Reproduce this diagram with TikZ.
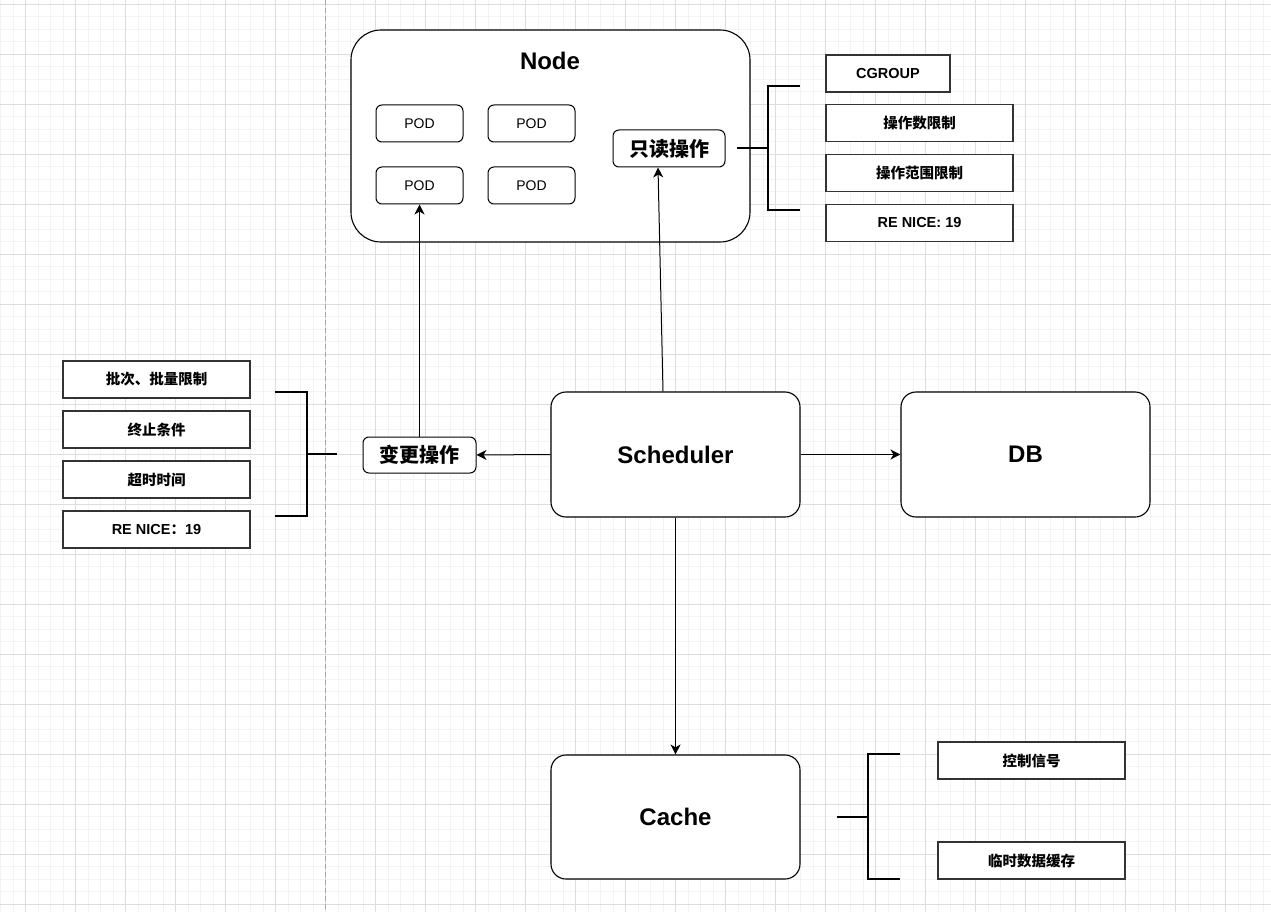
\documentclass[tikz,border=0pt]{standalone}
\usepackage{fontspec}
\setmainfont{Liberation Sans}
\newfontfamily\cjk{Noto Sans CJK SC}
\usetikzlibrary{arrows.meta}
\definecolor{gridminor}{HTML}{F3F3F3}
\definecolor{gridmajor}{HTML}{DDDDDD}
\definecolor{attrline}{HTML}{333333}
\begin{document}
\begin{tikzpicture}[x=1pt,y=-1pt,
  minorgrid/.style={draw=gridminor,line width=0.8pt},
  majorgrid/.style={draw=gridmajor,line width=0.9pt},
  bigbox/.style={draw=black,line width=1.1pt,fill=white,rounded corners=15pt,minimum width=249pt,minimum height=125pt,inner sep=0pt,font=\fontsize{24}{26}\selectfont\bfseries},
  podbox/.style={draw=black,line width=1pt,fill=white,rounded corners=6pt,minimum width=87pt,minimum height=37pt,inner sep=0pt,font=\fontsize{14}{16}\selectfont},
  opbox/.style={draw=black,line width=1pt,fill=white,rounded corners=6pt,minimum height=37pt,inner sep=0pt,font=\cjk\fontsize{20}{22}\selectfont\bfseries},
  attr/.style={draw=attrline,line width=1.1pt,fill=white,minimum width=187pt,minimum height=37pt,inner sep=0pt,font=\fontsize{14.5}{16}\selectfont\bfseries},
  attrcjk/.style={attr,font=\cjk\fontsize{14.5}{16}\selectfont\bfseries},
  bracket/.style={draw=black,line width=2.6pt},
  arr/.style={draw=black,line width=1pt,-{Stealth[length=10pt,width=10pt,inset=3pt]}}
]
\useasboundingbox (0,0) rectangle (1271,912);
\fill[white] (0,0) rectangle (1271,912);
% background grid
\foreach \i in {0,...,102} \draw[minorgrid] (0.5+\i*12.5,0) -- (0.5+\i*12.5,912);
\foreach \j in {-1,...,73} \draw[minorgrid] (0,4.3+\j*12.5) -- (1271,4.3+\j*12.5);
\foreach \i in {0,...,25} \draw[majorgrid] (25.5+\i*50,0) -- (25.5+\i*50,912);
\foreach \j in {0,...,18} \draw[majorgrid] (0,4.3+\j*50) -- (1271,4.3+\j*50);
\draw[draw=gray!70,line width=0.9pt,dash pattern=on 5pt off 3pt] (325.5,0) -- (325.5,912);

% Node container
\node[draw=black,line width=1.1pt,fill=white,rounded corners=30pt,minimum width=399pt,minimum height=212pt,inner sep=0pt] (nodebox) at (550.5,136) {};
\node[font=\fontsize{24}{26}\selectfont\bfseries] (nodetitle) at (550,61) {Node};
\node[podbox] (pod1) at (419.5,123.5) {POD};
\node[podbox] (pod2) at (531.5,123.5) {POD};
\node[podbox] (pod3) at (419.5,185.5) {POD};
\node[podbox] (pod4) at (531.5,185.5) {POD};
\node[opbox,minimum width=112pt] (ro) at (669,148.5) {只读操作};

% right attribute boxes
\node[attr,minimum width=124pt] (cg) at (888,73.5) {CGROUP};
\node[attrcjk] (opnum) at (919.5,123) {操作数限制};
\node[attrcjk] (oprange) at (919.5,173) {操作范围限制};
\node[attr] (renice1) at (919.5,223) {RE NICE: 19};
\coordinate (rbt) at (800,86);
\coordinate (rbb) at (800,210);
\coordinate (rbm) at (737,148);
\draw[bracket] (rbt) -- (768,86) -- (768,210) -- (rbb);
\draw[bracket] (rbm) -- (768,148);

% left attribute boxes
\node[attrcjk] (batch) at (156.5,379.5) {批次、批量限制};
\node[attrcjk] (stop) at (156.5,429.5) {终止条件};
\node[attrcjk] (timeout) at (156.5,479.5) {超时时间};
\node[attr] (renice2) at (156.5,529.5) {RE NICE{\cjk ：}19};
\coordinate (lbt) at (275,392);
\coordinate (lbb) at (275,516);
\coordinate (lbm) at (337,454);
\draw[bracket] (lbt) -- (307,392) -- (307,516) -- (lbb);
\draw[bracket] (lbm) -- (307,454);

\node[opbox,minimum width=113pt,minimum height=36pt] (chg) at (419.5,455) {变更操作};

% main boxes
\node[bigbox] (sched) at (675.5,454.5) {Scheduler};
\node[bigbox] (db) at (1025.5,454.5) {DB};
\node[bigbox,minimum height=124pt] (cache) at (675.5,817) {Cache};

% cache attributes
\node[attrcjk] (ctrl) at (1031.5,760.5) {控制信号};
\node[attrcjk] (tmp) at (1031.5,860.5) {临时数据缓存};
\coordinate (cbt) at (900,754);
\coordinate (cbb) at (900,879);
\coordinate (cbm) at (837,817);
\draw[bracket] (cbt) -- (868,754) -- (868,879) -- (cbb);
\draw[bracket] (cbm) -- (868,817);

% arrows
\draw[arr] (sched.west) -- (chg.east);
\draw[arr] (chg.north) -- (pod3.south);
\draw[arr] ([xshift=-12.5pt]sched.north) -- ([xshift=-11pt]ro.south);
\draw[arr] (sched.east) -- (db.west);
\draw[arr] (sched.south) -- (cache.north);
\end{tikzpicture}
\end{document}
